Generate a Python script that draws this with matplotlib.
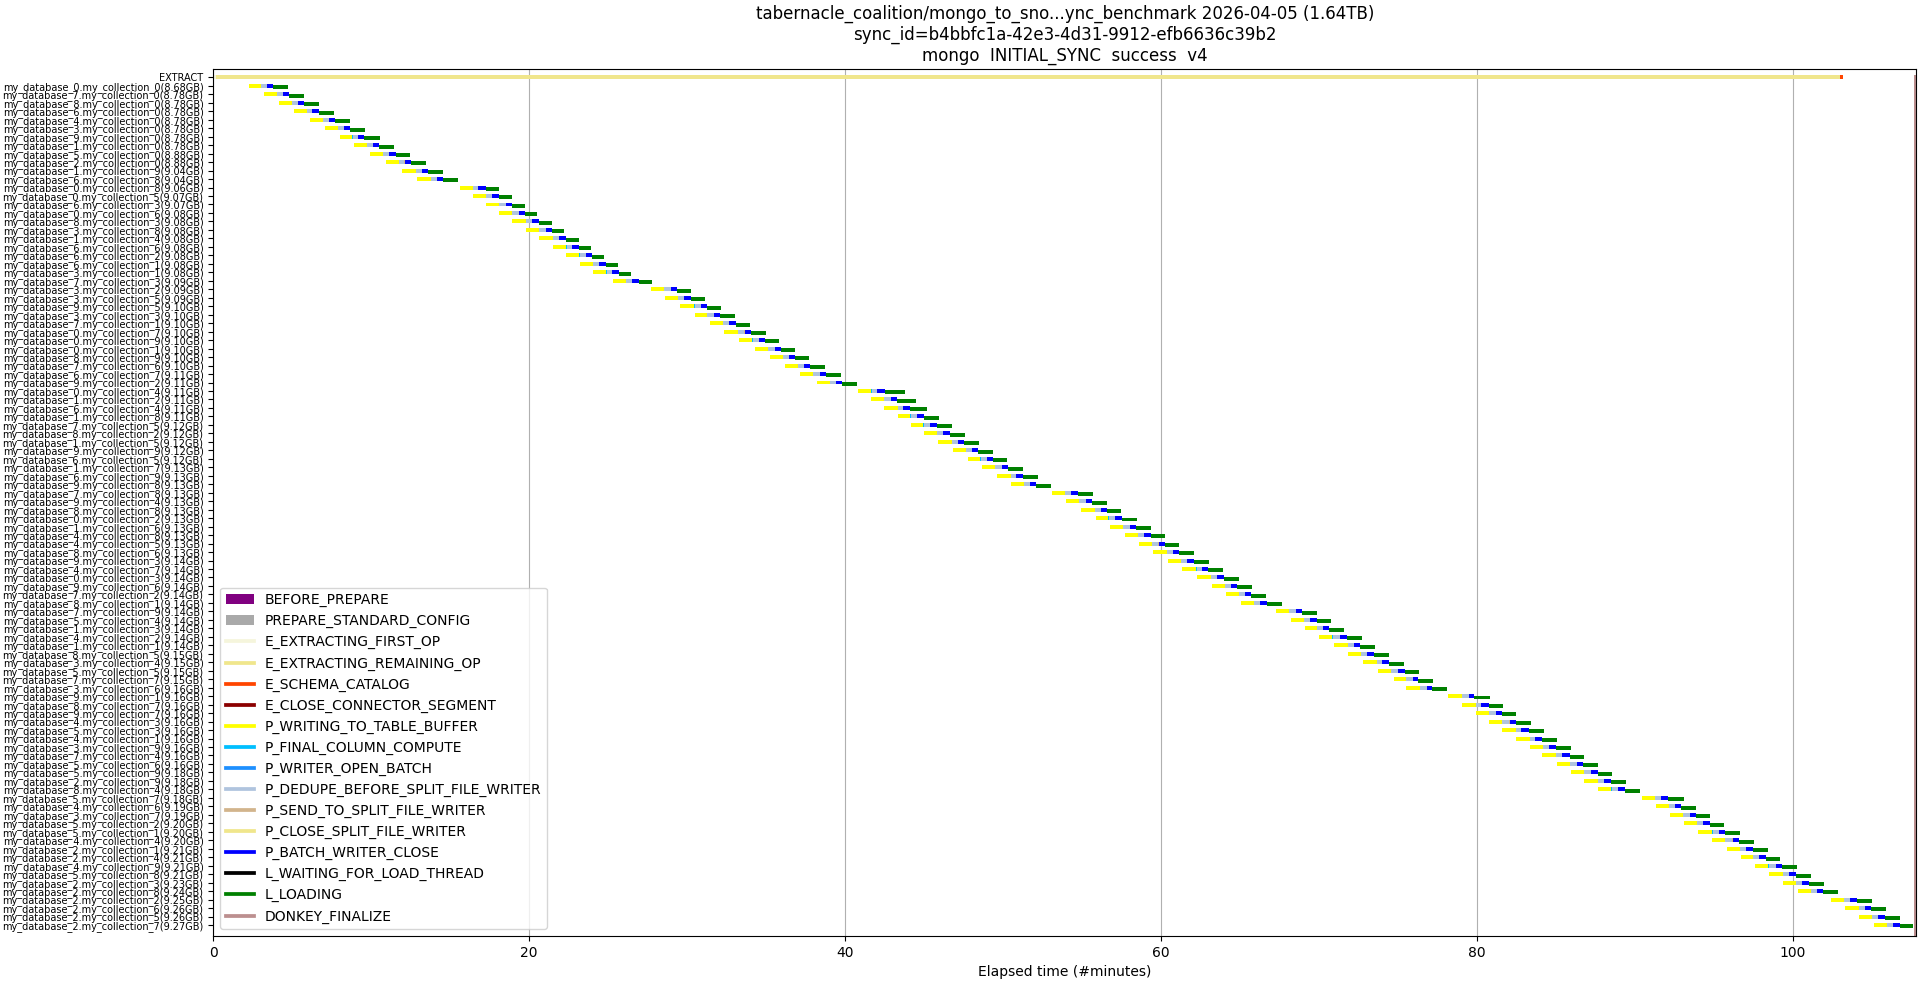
import matplotlib
matplotlib.use('Agg')
import matplotlib.pyplot as plt
from matplotlib.patches import Patch
from matplotlib.lines import Line2D

title = ("tabernacle_coalition/mongo_to_sno...ync_benchmark 2026-04-05 (1.64TB)\n"
         "sync_id=b4bbfc1a-42e3-4d31-9912-efb6636c39b2\n"
         "mongo  INITIAL_SYNC  success  v4")

labels = [
    "my_database_0.my_collection_0(8.68GB)", "my_database_7.my_collection_0(8.78GB)",
    "my_database_8.my_collection_0(8.78GB)", "my_database_6.my_collection_0(8.78GB)",
    "my_database_4.my_collection_0(8.78GB)", "my_database_3.my_collection_0(8.78GB)",
    "my_database_9.my_collection_0(8.78GB)", "my_database_1.my_collection_0(8.78GB)",
    "my_database_5.my_collection_0(8.88GB)", "my_database_2.my_collection_0(8.88GB)",
    "my_database_1.my_collection_9(9.04GB)", "my_database_6.my_collection_8(9.04GB)",
    "my_database_0.my_collection_8(9.06GB)", "my_database_0.my_collection_5(9.07GB)",
    "my_database_6.my_collection_3(9.07GB)", "my_database_0.my_collection_6(9.08GB)",
    "my_database_8.my_collection_3(9.08GB)", "my_database_3.my_collection_8(9.08GB)",
    "my_database_1.my_collection_4(9.08GB)", "my_database_6.my_collection_6(9.08GB)",
    "my_database_6.my_collection_2(9.08GB)", "my_database_6.my_collection_1(9.08GB)",
    "my_database_3.my_collection_1(9.08GB)", "my_database_7.my_collection_3(9.09GB)",
    "my_database_3.my_collection_2(9.09GB)", "my_database_3.my_collection_5(9.09GB)",
    "my_database_9.my_collection_5(9.10GB)", "my_database_3.my_collection_3(9.10GB)",
    "my_database_7.my_collection_1(9.10GB)", "my_database_0.my_collection_7(9.10GB)",
    "my_database_0.my_collection_9(9.10GB)", "my_database_0.my_collection_1(9.10GB)",
    "my_database_8.my_collection_9(9.10GB)", "my_database_7.my_collection_6(9.10GB)",
    "my_database_6.my_collection_7(9.11GB)", "my_database_9.my_collection_2(9.11GB)",
    "my_database_0.my_collection_4(9.11GB)", "my_database_1.my_collection_2(9.11GB)",
    "my_database_6.my_collection_4(9.11GB)", "my_database_1.my_collection_8(9.11GB)",
    "my_database_7.my_collection_5(9.12GB)", "my_database_8.my_collection_2(9.12GB)",
    "my_database_1.my_collection_5(9.12GB)", "my_database_9.my_collection_9(9.12GB)",
    "my_database_6.my_collection_5(9.12GB)", "my_database_1.my_collection_7(9.13GB)",
    "my_database_6.my_collection_9(9.13GB)", "my_database_9.my_collection_8(9.13GB)",
    "my_database_7.my_collection_8(9.13GB)", "my_database_9.my_collection_4(9.13GB)",
    "my_database_8.my_collection_8(9.13GB)", "my_database_0.my_collection_2(9.13GB)",
    "my_database_1.my_collection_6(9.13GB)", "my_database_4.my_collection_8(9.13GB)",
    "my_database_4.my_collection_5(9.13GB)", "my_database_8.my_collection_6(9.13GB)",
    "my_database_9.my_collection_3(9.14GB)", "my_database_4.my_collection_7(9.14GB)",
    "my_database_0.my_collection_3(9.14GB)", "my_database_9.my_collection_6(9.14GB)",
    "my_database_7.my_collection_2(9.14GB)", "my_database_8.my_collection_1(9.14GB)",
    "my_database_7.my_collection_9(9.14GB)", "my_database_5.my_collection_4(9.14GB)",
    "my_database_1.my_collection_3(9.14GB)", "my_database_4.my_collection_2(9.14GB)",
    "my_database_1.my_collection_1(9.14GB)", "my_database_8.my_collection_5(9.15GB)",
    "my_database_3.my_collection_4(9.15GB)", "my_database_5.my_collection_5(9.15GB)",
    "my_database_7.my_collection_7(9.15GB)", "my_database_3.my_collection_6(9.16GB)",
    "my_database_9.my_collection_1(9.16GB)", "my_database_8.my_collection_7(9.16GB)",
    "my_database_9.my_collection_7(9.16GB)", "my_database_4.my_collection_3(9.16GB)",
    "my_database_5.my_collection_3(9.16GB)", "my_database_4.my_collection_1(9.16GB)",
    "my_database_3.my_collection_9(9.16GB)", "my_database_7.my_collection_4(9.16GB)",
    "my_database_5.my_collection_6(9.16GB)", "my_database_5.my_collection_9(9.18GB)",
    "my_database_2.my_collection_9(9.18GB)", "my_database_8.my_collection_4(9.18GB)",
    "my_database_5.my_collection_7(9.18GB)", "my_database_4.my_collection_6(9.19GB)",
    "my_database_3.my_collection_7(9.19GB)", "my_database_5.my_collection_2(9.20GB)",
    "my_database_5.my_collection_1(9.20GB)", "my_database_4.my_collection_4(9.20GB)",
    "my_database_2.my_collection_1(9.21GB)", "my_database_2.my_collection_4(9.21GB)",
    "my_database_4.my_collection_9(9.21GB)", "my_database_5.my_collection_8(9.21GB)",
    "my_database_2.my_collection_3(9.23GB)", "my_database_2.my_collection_8(9.24GB)",
    "my_database_2.my_collection_2(9.25GB)", "my_database_2.my_collection_6(9.26GB)",
    "my_database_2.my_collection_5(9.26GB)", "my_database_2.my_collection_7(9.27GB)",
]

# start of P_WRITING_TO_TABLE_BUFFER for each collection (minutes)
starts = [
    2.26, 3.21, 4.16, 5.11, 6.12, 7.07, 8.02, 8.91, 9.92, 10.93, 11.94, 12.89,
    15.61, 16.44, 17.26, 18.08, 18.91, 19.79, 20.61, 21.50, 22.32, 23.21, 24.03, 25.30,
    27.70, 28.62, 29.55, 30.48, 31.42, 32.36, 33.30, 34.28, 35.25, 36.17, 37.13, 38.21,
    40.80, 41.63, 42.45, 43.34, 44.16, 44.98, 45.90, 46.80, 47.75, 48.65, 49.60, 50.50,
    53.10, 54.00, 54.95, 55.85, 56.75, 57.70, 58.60, 59.50, 60.45, 61.35, 62.30, 63.20,
    64.10, 65.05, 67.30, 68.20, 69.10, 70.00, 70.95, 71.85, 72.80, 73.75, 74.72, 75.53,
    78.19, 79.08, 79.91, 80.74, 81.61, 82.44, 83.34, 84.14, 85.04, 85.93, 86.80, 87.63,
    90.43, 91.30, 92.20, 93.10, 94.00, 94.90, 95.80, 96.70, 97.60, 98.50, 99.40, 100.30,
    102.40, 103.30, 104.20, 105.10,
]

dur_write = [
    0.76, 0.82, 0.82, 0.82, 0.82, 0.82, 0.76, 0.82, 0.82, 0.82, 0.89, 0.89,
    0.82, 0.82, 0.82, 0.82, 0.89, 0.82, 0.89, 0.82, 0.82, 0.82, 0.82, 0.84,
    0.85, 0.82, 0.87, 0.80, 0.84, 0.86, 0.82, 0.85, 0.83, 0.82, 0.82, 0.82,
    0.82, 0.82, 0.89, 0.76, 0.76, 0.82, 0.84, 0.86, 0.80, 0.83, 0.87, 0.82,
    0.84, 0.82, 0.86, 0.80, 0.85, 0.83, 0.82, 0.87, 0.81, 0.84, 0.86, 0.82,
    0.85, 0.83, 0.82, 0.86, 0.80, 0.84, 0.87, 0.82, 0.85, 0.83, 0.81, 0.83,
    0.83, 0.83, 0.83, 0.87, 0.83, 0.89, 0.81, 0.89, 0.87, 0.87, 0.83, 0.87,
    0.81, 0.84, 0.86, 0.82, 0.85, 0.83, 0.87, 0.80, 0.84, 0.86, 0.82, 0.85,
    0.83, 0.86, 0.82, 0.84,
]

dur_final = [
    0, 0, 0, 0, 0, 0, 0.06, 0, 0, 0, 0, 0,
    0, 0, 0, 0, 0, 0, 0, 0.06, 0.06, 0, 0.06, 0,
    0, 0, 0.06, 0, 0, 0, 0.06, 0, 0, 0, 0, 0,
    0.06, 0, 0, 0.06, 0.06, 0, 0, 0, 0.06, 0, 0, 0,
    0, 0, 0, 0.06, 0, 0, 0, 0, 0, 0.06, 0, 0,
    0, 0, 0, 0, 0, 0.06, 0, 0, 0, 0, 0, 0.06,
    0.06, 0, 0, 0, 0, 0, 0, 0, 0, 0, 0.06, 0.06,
    0, 0, 0, 0, 0.06, 0, 0, 0, 0.06, 0, 0, 0,
    0, 0, 0, 0,
]

dur_dedupe = [
    0.38, 0.38, 0.38, 0.32, 0.38, 0.38, 0.32, 0.38, 0.38, 0.32, 0.38, 0.38,
    0.32, 0.38, 0.44, 0.44, 0.38, 0.44, 0.38, 0.32, 0.38, 0.38, 0.32, 0.38,
    0.40, 0.36, 0.38, 0.42, 0.36, 0.38, 0.34, 0.40, 0.38, 0.38, 0.44, 0.38,
    0.32, 0.44, 0.32, 0.38, 0.38, 0.38, 0.40, 0.36, 0.38, 0.42, 0.36, 0.38,
    0.38, 0.40, 0.36, 0.38, 0.42, 0.38, 0.36, 0.40, 0.38, 0.34, 0.38, 0.40,
    0.36, 0.38, 0.42, 0.38, 0.36, 0.40, 0.38, 0.38, 0.36, 0.40, 0.39, 0.39,
    0.39, 0.37, 0.44, 0.44, 0.37, 0.37, 0.39, 0.37, 0.39, 0.39, 0.37, 0.37,
    0.39, 0.38, 0.40, 0.36, 0.38, 0.42, 0.38, 0.36, 0.40, 0.38, 0.38, 0.36,
    0.40, 0.38, 0.38, 0.40,
]

dur_send = [
    0, 0, 0, 0, 0, 0, 0, 0, 0, 0.06, 0, 0,
    0, 0, 0, 0, 0, 0, 0, 0, 0, 0, 0, 0,
    0, 0, 0, 0, 0, 0.06, 0, 0, 0, 0, 0, 0,
    0, 0, 0, 0, 0, 0, 0, 0, 0, 0, 0, 0,
    0, 0, 0, 0, 0, 0, 0.06, 0, 0, 0, 0, 0,
    0, 0, 0, 0, 0, 0, 0, 0, 0, 0, 0, 0,
    0, 0, 0, 0.06, 0, 0, 0, 0, 0, 0, 0, 0,
    0, 0, 0, 0, 0, 0.06, 0, 0, 0, 0, 0, 0,
    0, 0, 0, 0,
]

dur_close = [
    0.38, 0.38, 0.38, 0.44, 0.38, 0.38, 0.38, 0.38, 0.44, 0.38, 0.38, 0.38,
    0.51, 0.44, 0.38, 0.38, 0.44, 0.38, 0.44, 0.44, 0.38, 0.44, 0.44, 0.40,
    0.40, 0.42, 0.38, 0.40, 0.44, 0.38, 0.42, 0.40, 0.38, 0.38, 0.38, 0.38,
    0.51, 0.38, 0.44, 0.44, 0.44, 0.44, 0.40, 0.42, 0.38, 0.40, 0.44, 0.40,
    0.42, 0.40, 0.38, 0.44, 0.40, 0.42, 0.40, 0.38, 0.44, 0.40, 0.42, 0.38,
    0.40, 0.44, 0.40, 0.42, 0.38, 0.44, 0.40, 0.42, 0.40, 0.44, 0.37, 0.37,
    0.37, 0.46, 0.37, 0.37, 0.46, 0.44, 0.44, 0.46, 0.44, 0.44, 0.44, 0.41,
    0.44, 0.42, 0.40, 0.44, 0.42, 0.40, 0.44, 0.42, 0.40, 0.44, 0.42, 0.40,
    0.44, 0.42, 0.42, 0.44,
]

dur_load = [
    0.93, 0.93, 0.93, 0.93, 0.93, 0.93, 0.99, 0.93, 0.86, 0.93, 0.93, 0.93,
    0.80, 0.80, 0.80, 0.80, 0.80, 0.80, 0.80, 0.80, 0.80, 0.80, 0.80, 0.85,
    0.90, 0.92, 0.88, 0.95, 0.90, 0.93, 0.88, 0.92, 0.90, 0.95, 0.95, 0.95,
    1.27, 1.20, 1.08, 0.95, 0.95, 0.95, 0.92, 0.95, 0.90, 0.93, 0.95, 0.92,
    0.95, 0.93, 0.90, 0.96, 0.92, 0.94, 0.90, 0.95, 0.93, 0.92, 0.96, 0.94,
    0.92, 0.95, 0.93, 0.90, 0.94, 0.96, 0.92, 0.93, 0.95, 0.92, 0.94, 0.94,
    0.98, 0.92, 0.94, 0.94, 0.98, 0.94, 0.94, 0.92, 0.94, 0.94, 0.94, 0.98,
    1.03, 0.95, 0.92, 0.94, 0.96, 0.93, 0.95, 0.92, 0.94, 0.96, 0.93, 0.95,
    0.94, 0.96, 0.93, 0.84,
]

# EXTRACT row phases (start, end) in minutes
extract_first_op = (0.0, 0.18)
extract_remaining_op = (0.18, 103.0)
schema_catalog = (103.0, 103.2)
donkey_finalize = (107.65, 107.77)

legend_names = [
    "BEFORE_PREPARE", "PREPARE_STANDARD_CONFIG", "E_EXTRACTING_FIRST_OP",
    "E_EXTRACTING_REMAINING_OP", "E_SCHEMA_CATALOG", "E_CLOSE_CONNECTOR_SEGMENT",
    "P_WRITING_TO_TABLE_BUFFER", "P_FINAL_COLUMN_COMPUTE", "P_WRITER_OPEN_BATCH",
    "P_DEDUPE_BEFORE_SPLIT_FILE_WRITER", "P_SEND_TO_SPLIT_FILE_WRITER",
    "P_CLOSE_SPLIT_FILE_WRITER", "P_BATCH_WRITER_CLOSE", "L_WAITING_FOR_LOAD_THREAD",
    "L_LOADING", "DONKEY_FINALIZE",
]
colors = {
    "BEFORE_PREPARE": "purple", "PREPARE_STANDARD_CONFIG": "darkgray",
    "E_EXTRACTING_FIRST_OP": "beige", "E_EXTRACTING_REMAINING_OP": "khaki",
    "E_SCHEMA_CATALOG": "orangered", "E_CLOSE_CONNECTOR_SEGMENT": "darkred",
    "P_WRITING_TO_TABLE_BUFFER": "yellow", "P_FINAL_COLUMN_COMPUTE": "deepskyblue",
    "P_WRITER_OPEN_BATCH": "dodgerblue", "P_DEDUPE_BEFORE_SPLIT_FILE_WRITER": "lightsteelblue",
    "P_SEND_TO_SPLIT_FILE_WRITER": "tan", "P_CLOSE_SPLIT_FILE_WRITER": "khaki",
    "P_BATCH_WRITER_CLOSE": "blue", "L_WAITING_FOR_LOAD_THREAD": "black",
    "L_LOADING": "green", "DONKEY_FINALIZE": "rosybrown",
}

fig = plt.figure(figsize=(19.2, 9.82), dpi=100)
ax = fig.add_axes([0.1111, 0.0468, 0.8869, 0.8829])
ax.set_axisbelow(True)
ax.grid(axis='x', color='#b0b0b0', linewidth=0.8)

H = 0.47
# EXTRACT row
for (a, b), name in [(extract_first_op, "E_EXTRACTING_FIRST_OP"),
                     (extract_remaining_op, "E_EXTRACTING_REMAINING_OP"),
                     (schema_catalog, "E_SCHEMA_CATALOG")]:
    ax.barh(0, b - a, left=a, height=H, color=colors[name], linewidth=0)

n = len(labels)
ys = list(range(1, n + 1))
left = list(starts)
phase_specs = [
    (dur_write, "P_WRITING_TO_TABLE_BUFFER", 0.0),
    (dur_final, "P_FINAL_COLUMN_COMPUTE", 0.0),
    (dur_dedupe, "P_DEDUPE_BEFORE_SPLIT_FILE_WRITER", 0.0),
    (dur_send, "P_SEND_TO_SPLIT_FILE_WRITER", 0.0),
    (dur_close, "P_BATCH_WRITER_CLOSE", 0.0),
    (dur_load, "L_LOADING", 0.16),
]
for durs, name, off in phase_specs:
    ax.barh([y + off for y in ys], durs, left=left, height=H,
            color=colors[name], linewidth=0)
    left = [l + d for l, d in zip(left, durs)]

# DONKEY_FINALIZE
ax.bar((donkey_finalize[0] + donkey_finalize[1]) / 2, 110,
       width=donkey_finalize[1] - donkey_finalize[0], bottom=-0.27,
       color=colors["DONKEY_FINALIZE"], linewidth=0)

ax.set_xlim(0, 107.8)
ax.set_ylim(101.3, -0.98)
ax.set_yticks(range(0, n + 1))
ax.set_yticklabels(["EXTRACT"] + labels, fontsize=7)
ax.set_xticks([0, 20, 40, 60, 80, 100])
ax.tick_params(axis='x', labelsize=10)
ax.set_xlabel("Elapsed time (#minutes)", fontsize=10)
ax.set_title(title, fontsize=12)

handles = []
for name in legend_names:
    if name in ("BEFORE_PREPARE", "PREPARE_STANDARD_CONFIG"):
        handles.append(Patch(facecolor=colors[name], label=name))
    else:
        handles.append(Line2D([0], [0], color=colors[name], lw=2.7, label=name))
ax.legend(handles=handles, loc='lower left', fontsize=10)

fig.savefig("out.png", dpi=100)
